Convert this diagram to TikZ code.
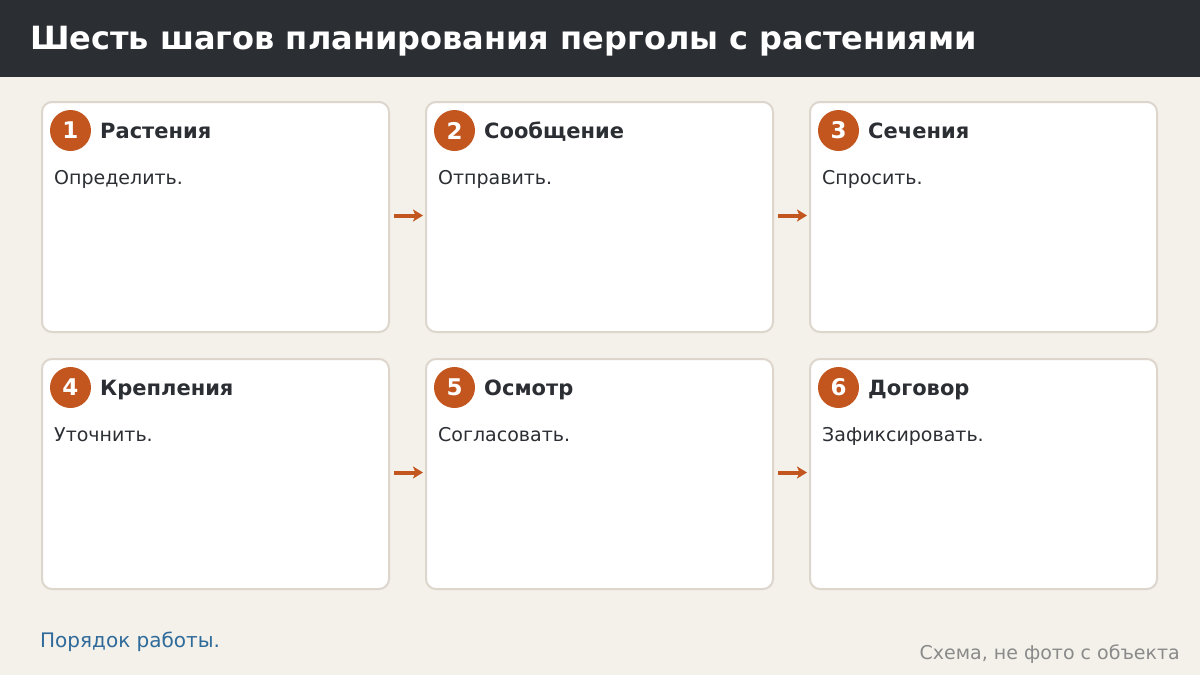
\documentclass[tikz,border=0pt]{standalone}
\usepackage{fontspec}
\setmainfont{DejaVu Sans}
\usetikzlibrary{arrows.meta}
\definecolor{bgc}{HTML}{F4F1EA}
\definecolor{headc}{HTML}{2B2E33}
\definecolor{cardb}{HTML}{DDD6CC}
\definecolor{accent}{HTML}{C2561E}
\definecolor{txt}{HTML}{2B2E33}
\definecolor{linkc}{HTML}{2E6A9A}
\definecolor{grayc}{HTML}{8A8A8A}
\tikzset{
  card/.style={draw=cardb, line width=2pt, fill=white, rounded corners=10pt, minimum width=347pt, minimum height=230pt, inner sep=0pt, outer sep=0pt, anchor=north west},
  badge/.style={circle, fill=accent, minimum size=41pt, inner sep=0pt, text=white, font=\fontsize{23}{23}\selectfont\bfseries},
  ctitle/.style={anchor=base west, inner sep=0pt, text=txt, font=\fontsize{21}{21}\selectfont\bfseries},
  cbody/.style={anchor=base west, inner sep=0pt, text=txt, font=\fontsize{19}{19}\selectfont},
  flow/.style={draw=accent, line width=4pt, -{Stealth[length=10pt,width=12pt,inset=2.5pt]}, shorten <=5pt, shorten >=3pt}
}
\begin{document}
\begin{tikzpicture}[x=1pt,y=-1pt]
\useasboundingbox (0,0) rectangle (1200,675);
\fill[bgc] (0,0) rectangle (1200,675);
\fill[headc] (0,0) rectangle (1200,77);
\node[anchor=base west, inner sep=0pt, text=white, font=\fontsize{32}{32}\selectfont\bfseries] (title) at (30,49) {Шесть шагов планирования перголы с растениями};
% cards
\node[card] (c1) at (42,102) {};
\node[card] (c2) at (426,102) {};
\node[card] (c3) at (810,102) {};
\node[card] (c4) at (42,359) {};
\node[card] (c5) at (426,359) {};
\node[card] (c6) at (810,359) {};
% badges and texts
\foreach \n/\x/\y/\t/\b in {1/41/101/Растения/Определить., 2/425/101/Сообщение/Отправить., 3/809/101/Сечения/Спросить., 4/41/358/Крепления/Уточнить., 5/425/358/Осмотр/Согласовать., 6/809/358/Договор/Зафиксировать.}{
  \node[badge] (b\n) at (\x+29.5,\y+29.5) {\n};
  \node[ctitle] (t\n) at (\x+59,\y+37) {\t};
  \node[cbody] (d\n) at (\x+13,\y+83) {\b};
}
% arrows
\draw[flow] ([yshift=1.5pt]c1.east) -- ([yshift=1.5pt]c2.west);
\draw[flow] ([yshift=1.5pt]c2.east) -- ([yshift=1.5pt]c3.west);
\draw[flow] ([yshift=1.5pt]c4.east) -- ([yshift=1.5pt]c5.west);
\draw[flow] ([yshift=1.5pt]c5.east) -- ([yshift=1.5pt]c6.west);
% footer
\node[anchor=base west, inner sep=0pt, text=linkc, font=\fontsize{20}{20}\selectfont] (foot) at (40,647) {Порядок работы.};
\node[anchor=base east, inner sep=0pt, text=grayc, font=\fontsize{19}{19}\selectfont] (note) at (1180,659) {Схема, не фото с объекта};
\end{tikzpicture}
\end{document}
